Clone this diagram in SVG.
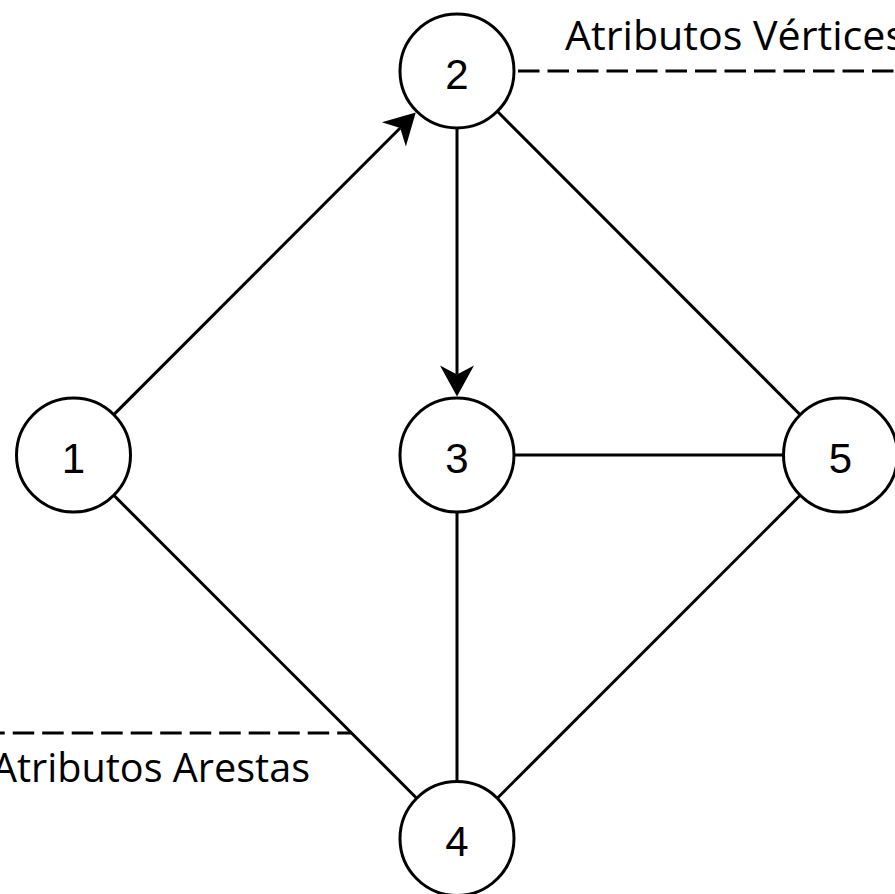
<svg xmlns="http://www.w3.org/2000/svg" width="895" height="894" viewBox="0 0 895 894">
  <style>
    .edge { stroke: #000; stroke-width: 3; fill: none; }
    .note { stroke: #000; stroke-width: 2.8; fill: none; stroke-dasharray: 21.5 8; }
    .node circle { fill: #fff; stroke: #000; stroke-width: 3; }
    .node text { font-family: "Liberation Sans", Arial, sans-serif; font-size: 42px; fill: #000; text-anchor: middle; }
    .label { font-family: "Open Sans", "Liberation Sans", sans-serif; font-size: 40px; fill: #000; }
  </style>
  <defs>
    <marker id="arrow" viewBox="-10 -18 33 36" markerWidth="33" markerHeight="36" refX="0" refY="0" markerUnits="userSpaceOnUse" orient="auto">
      <path d="M-9,-17 L22,0 L-9,17 L0,0 Z" fill="#000"/>
    </marker>
  </defs>
  <rect width="895" height="894" fill="#fff"/>

  <g id="connectors">
    <line class="edge" x1="113.8" y1="414.6" x2="400.2" y2="128" marker-end="url(#arrow)"/>
    <line class="edge" x1="457" y1="128" x2="457" y2="374.5" marker-end="url(#arrow)"/>
    <line class="edge" x1="497.3" y1="111.3" x2="800.2" y2="414.7"/>
    <line class="edge" x1="514" y1="455" x2="783.5" y2="455"/>
    <line class="edge" x1="113.8" y1="495.3" x2="416.7" y2="798.2"/>
    <line class="edge" x1="457" y1="512" x2="457" y2="781.5"/>
    <line class="edge" x1="497.3" y1="798.2" x2="800.2" y2="495.3"/>
    <line class="note" x1="518" y1="71" x2="900" y2="71"/>
    <line class="note" x1="0" y1="733" x2="351.5" y2="733" stroke-dashoffset="-12.7"/>
  </g>

  <g id="node-1" class="node">
    <circle cx="73.5" cy="455" r="57"/>
    <text x="73.5" y="472.5">1</text>
  </g>
  <g id="node-2" class="node">
    <circle cx="457" cy="71" r="57"/>
    <text x="457" y="88.5">2</text>
  </g>
  <g id="node-3" class="node">
    <circle cx="457" cy="455" r="57"/>
    <text x="457" y="472.5">3</text>
  </g>
  <g id="node-4" class="node">
    <circle cx="457" cy="838.5" r="57"/>
    <text x="457" y="856">4</text>
  </g>
  <g id="node-5" class="node">
    <circle cx="840.5" cy="455" r="57"/>
    <text x="840.5" y="472.5">5</text>
  </g>

  <g id="label-vertices">
    <text class="label" x="565" y="50" textLength="340" lengthAdjust="spacingAndGlyphs">Atributos Vértices</text>
  </g>
  <g id="label-edges">
    <text class="label" x="-8" y="782" textLength="318" lengthAdjust="spacingAndGlyphs">Atributos Arestas</text>
  </g>
</svg>
